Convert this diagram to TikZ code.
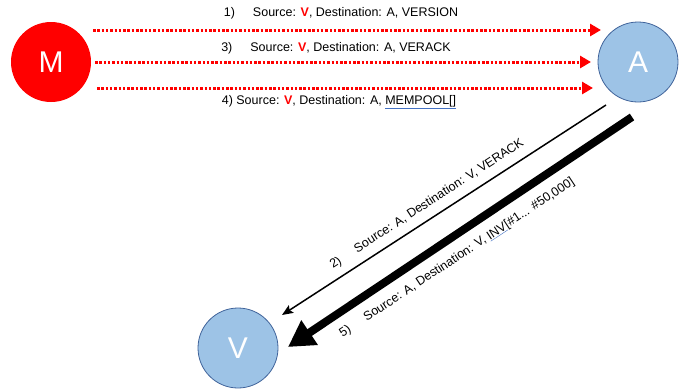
\documentclass[tikz,border=0pt]{standalone}
\usepackage{fontspec}
\setmainfont{Liberation Sans}
\usetikzlibrary{arrows.meta}

\newcommand{\redV}{\textcolor{peerRed}{\textbf{V}}}
\newcommand{\spellmark}[1]{{\color{markBlue}\underline{\textcolor{black}{#1}}}}

\begin{document}
\begin{tikzpicture}[x=1pt,y=-1pt]
\definecolor{peerRed}{RGB}{255,0,0}
\definecolor{peerBlue}{RGB}{157,195,230}
\definecolor{rimBlue}{RGB}{65,100,155}
\definecolor{markBlue}{RGB}{68,114,196}
\tikzset{
  peer/.style={circle,minimum size=80pt,inner sep=0pt,text=white,font=\fontsize{30}{30}\selectfont},
  bluepeer/.style={peer,fill=peerBlue,draw=rimBlue,line width=0.8pt},
  msg/.style={draw=peerRed,line width=3pt,dash pattern=on 2.5pt off 1.8pt,-{Triangle[length=11pt,width=12pt]}},
  reply/.style={draw=black,line width=1.5pt,-{Stealth[length=11pt,width=9pt,inset=2pt]}},
  bigreply/.style={draw=black,line width=8pt,-{Triangle[length=26pt,width=28pt]}},
  lbl/.style={inner sep=0pt,font=\fontsize{12.5}{14}\selectfont}
}
\path[use as bounding box,fill=white] (0,0) rectangle (682,389);

% peers
\node[peer,fill=peerRed] (M) at (51,62) {M};
\node[bluepeer] (A) at (638,62) {A};
\node[bluepeer] (V) at (238,348) {V};

% free ends of the messages
\coordinate (m1) at (93,30);   \coordinate (a1) at (601,30);
\coordinate (m3) at (95,62);   \coordinate (a3) at (591,62);
\coordinate (m4) at (97,88);   \coordinate (a4) at (593,88);
\coordinate (a2) at (606,105); \coordinate (v2) at (282,315);
\coordinate (a5) at (632,117); \coordinate (v5) at (288,347);

% M -> A
\draw[msg] (m1) -- (a1);
\draw[msg] (m3) -- (a3);
\draw[msg] (m4) -- (a4);

% A -> V
\draw[reply] (a2) -- (v2);
\draw[bigreply] (a5) -- (v5);

% labels
\node[lbl] (t1) at (341,13) {1)\hspace{18pt}Source: \redV, Destination: A, VERSION};
\node[lbl] (t3) at (336,48) {3)\hspace{18pt}Source: \redV, Destination: A, VERACK};
\node[lbl] (t4) at (339,102) {4) Source: \redV, Destination: A, \spellmark{MEMPOOL[]}};
\node[lbl,rotate=33] (t2) at (427,204) {2)\hspace{18pt}Source: A, Destination: V, VERACK};
\node[lbl,rotate=33.5] (t5) at (457,258) {5)\hspace{18pt}Source: A, Destination: V, \spellmark{INV}[\#1... \#50,000]};
\end{tikzpicture}
\end{document}
